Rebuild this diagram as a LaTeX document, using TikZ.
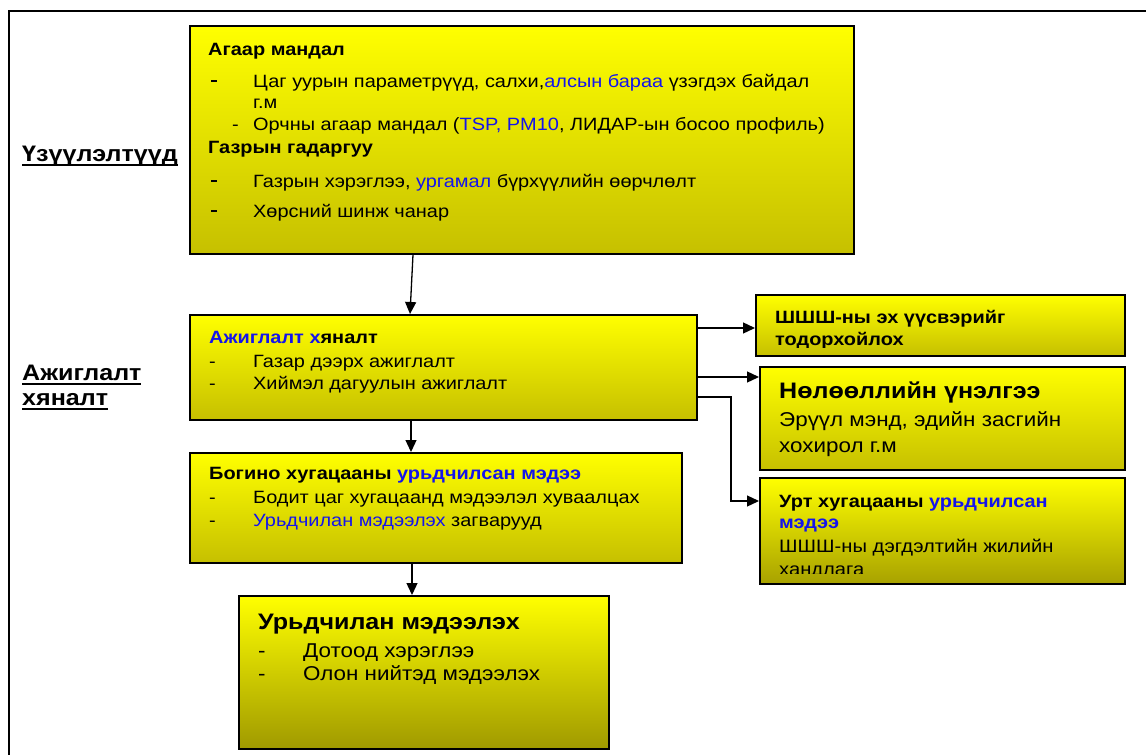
\documentclass[tikz,border=0pt]{standalone}
\usepackage{fontspec}
\setmainfont{Liberation Sans}[FakeStretch=1.12]
\usetikzlibrary{arrows.meta,calc}
\definecolor{ybotA}{RGB}{198,192,0}
\definecolor{ybotB}{RGB}{160,154,0}
\definecolor{tb}{RGB}{20,20,235}
\newcommand\fA{\fontsize{17.8pt}{21pt}\selectfont}
\newcommand\fB{\fontsize{22.4pt}{26pt}\selectfont}
\newcommand\fC{\fontsize{20pt}{24pt}\selectfont}
\newcommand\fD{\fontsize{18pt}{22pt}\selectfont}
\newcommand\fL{\fontsize{22.4pt}{26pt}\selectfont}
\newcommand\bl[1]{\textcolor{tb}{#1}}
\newcommand\ulx[1]{\setbox0\hbox{#1}\rlap{\rule[-5pt]{\wd0}{1.8pt}}\box0}
\newcommand\bdash{\rule[5pt]{6pt}{2.3pt}}
\tikzset{
  box/.style={draw=black, line width=1.6pt, rectangle, anchor=north west, inner sep=0pt, top color=yellow, bottom color=ybotA},
  arr/.style={line width=1.3pt, -{Triangle[length=12pt,width=11pt]}},
  txt/.style={anchor=base west, inner sep=0pt, align=left},
}
\begin{document}
\begin{tikzpicture}[x=1pt,y=-1pt]
\useasboundingbox (0,0) rectangle (1146,755);
\fill[white] (0,0) rectangle (1146,755);
\draw[line width=2pt] (9,755) -- (9,11) -- (1146,11);

% boxes
\node[box, minimum width=664pt, minimum height=228pt] (ind) at (189,25) {};
\node[box, minimum width=507pt, minimum height=105pt] (obs) at (189,314) {};
\node[box, minimum width=492pt, minimum height=110pt] (sf) at (189,452) {};
\node[box, minimum width=370pt, minimum height=153pt, bottom color=ybotB] (fc) at (238,595) {};
\node[box, minimum width=369pt, minimum height=61pt] (src) at (755,294) {};
\node[box, minimum width=365pt, minimum height=103pt] (imp) at (759,366) {};
\node[box, minimum width=365pt, minimum height=106pt, bottom color=ybotB!80!ybotA] (lf) at (759,477) {};

% left labels
\node[txt] (lab1) at (22,161) {\fL\bfseries\ulx{Үзүүлэлтүүд}};
\node[txt] (lab2) at (22,380) {\fL\bfseries\ulx{Ажиглалт}};
\node[txt] (lab3) at (22,405) {\fL\bfseries\ulx{хяналт}};

% top box text
\node[txt] (t1) at (208,55) {\fA\bfseries Агаар мандал};
\node[txt] (t2) at (211,87) {\fA\makebox[42pt][l]{\bdash}Цаг уурын параметрүүд, салхи,\bl{алсын бараа} үзэгдэх байдал};
\node[txt] (t3) at (253,108) {\fA г.м};
\node[txt] (t4) at (232,130) {\fA\makebox[21pt][l]{-}Орчны агаар мандал (\bl{TSP, PM10}, ЛИДАР-ын босоо профиль)};
\node[txt] (t5) at (208,153) {\fA\bfseries Газрын гадаргуу};
\node[txt] (t6) at (211,187) {\fA\makebox[42pt][l]{\bdash}Газрын хэрэглээ, \bl{ургамал} бүрхүүлийн өөрчлөлт};
\node[txt] (t7) at (211,217) {\fA\makebox[42pt][l]{\bdash}Хөрсний шинж чанар};

% observation box
\node[txt] (o1) at (209,343) {\fA\bfseries\bl{Ажиглалт х}яналт};
\node[txt] (o2) at (209,367) {\fA\makebox[44pt][l]{-}Газар дээрх ажиглалт};
\node[txt] (o3) at (209,389) {\fA\makebox[44pt][l]{-}Хиймэл дагуулын ажиглалт};

% short-term forecast box
\node[txt] (s1) at (209,479) {\fA\bfseries Богино хугацааны \bl{урьдчилсан мэдээ}};
\node[txt] (s2) at (209,503) {\fA\makebox[44pt][l]{-}Бодит цаг хугацаанд мэдээлэл хуваалцах};
\node[txt] (s3) at (209,526) {\fA\makebox[44pt][l]{-}\bl{Урьдчилан мэдээлэх} загварууд};

% forecast box
\node[txt] (f1) at (258,629) {\fB\bfseries Урьдчилан мэдээлэх};
\node[txt] (f2) at (258,657) {\fC\makebox[45pt][l]{-}Дотоод хэрэглээ};
\node[txt] (f3) at (258,680) {\fC\makebox[45pt][l]{-}Олон нийтэд мэдээлэх};

% source box (text clipped)
\begin{scope}
\clip (755,294) rectangle (1124,347);
\node[txt] (a1) at (775,323) {\fA\bfseries ШШШ-ны эх үүсвэрийг};
\node[txt] (a2) at (775,345) {\fA\bfseries тодорхойлох};
\end{scope}

% impact box
\node[txt] (b1) at (779,398) {\fB\bfseries Нөлөөллийн үнэлгээ};
\node[txt] (b2) at (779,426) {\fC Эрүүл мэнд, эдийн засгийн};
\node[txt] (b3) at (779,452) {\fC хохирол г.м};

% long-term box (text clipped)
\begin{scope}
\clip (759,477) rectangle (1124,573);
\node[txt] (c1) at (779,507) {\fA\bfseries Урт хугацааны \bl{урьдчилсан}};
\node[txt] (c2) at (779,528) {\fA\bfseries\bl{мэдээ}};
\node[txt] (c3) at (779,552) {\fD ШШШ-ны дэгдэлтийн жилийн};
\node[txt] (c4) at (779,575) {\fD хандлага};
\end{scope}

% connectors
\draw[arr] ([xshift=224pt]ind.south west) -- ([xshift=221pt]obs.north west);
\draw[arr] ([xshift=222pt]obs.south west) -- ([xshift=222pt]sf.north west);
\draw[arr] ([xshift=223pt]sf.south west) -- ([xshift=174pt]fc.north west);
\draw[arr] ([yshift=-14pt]obs.north east) -- ([yshift=-14pt]obs.north east -| src.west);
\draw[arr] ([yshift=-63pt]obs.north east) -- ([yshift=-63pt]obs.north east -| imp.west);
\coordinate (bend) at (731,397);
\draw[arr] ([yshift=-83pt]obs.north east) -- (bend) |- ([yshift=-24pt]lf.north west);
\end{tikzpicture}
\end{document}
